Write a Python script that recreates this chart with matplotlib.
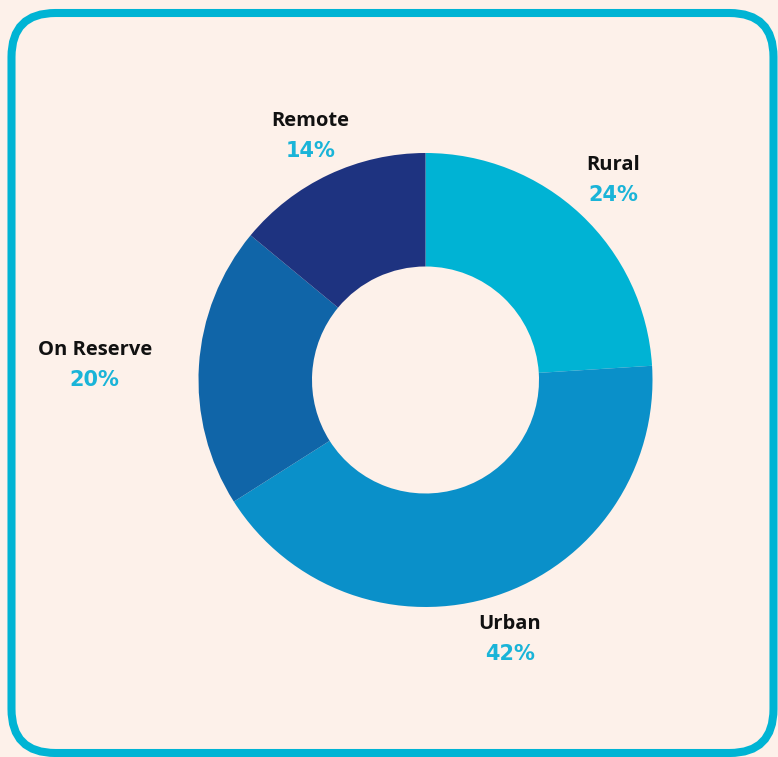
import numpy as np
import matplotlib
matplotlib.use("Agg")
import matplotlib.pyplot as plt
from matplotlib.patches import FancyBboxPatch

categories = ["Rural", "Urban", "On Reserve", "Remote"]
values = [24, 42, 20, 14]
pct_labels = ["24%", "42%", "20%", "14%"]
colors = ["#00B3D4", "#0A90C9", "#1065A8", "#1E3380"]

BG = "#FDF1EA"
ACCENT = "#00B4D4"

W, H = 778, 757
fig = plt.figure(figsize=(W / 100, H / 100), dpi=100, facecolor=BG)
ax = fig.add_axes([0, 0, 1, 1])

cx, cy, R = 425.5, H - 380, 227
wedges, _ = ax.pie(values, colors=colors, startangle=90, counterclock=False,
                   radius=R, center=(cx, cy), frame=True,
                   wedgeprops=dict(width=R * 0.5, linewidth=0))
ax.set_xlim(0, W)
ax.set_ylim(0, H)
ax.set_aspect("equal")
ax.axis("off")

# rounded frame
frame = FancyBboxPatch((11.5, 4), 762, 740,
                       boxstyle="round,pad=0,rounding_size=44",
                       facecolor="none", edgecolor=ACCENT, linewidth=5.8)
ax.add_patch(frame)

dist = [1.21, 1.2, 1.46, 1.19]
yshift = [0, 0, -6, 0]
for w, cat, pct, d, s in zip(wedges, categories, pct_labels, dist, yshift):
    ang = np.deg2rad((w.theta1 + w.theta2) / 2)
    x = cx + d * R * np.cos(ang)
    y = cy + d * R * np.sin(ang) + s
    ax.text(x, y + 15, cat, ha="center", va="center", fontsize=14.5,
            fontfamily="Open Sans", fontweight="bold", color="#111111")
    ax.text(x, y - 15, pct, ha="center", va="center", fontsize=15,
            fontfamily="DejaVu Sans", fontweight="bold", color="#1AB4D8")

fig.savefig("out.png", dpi=100, facecolor=BG)
